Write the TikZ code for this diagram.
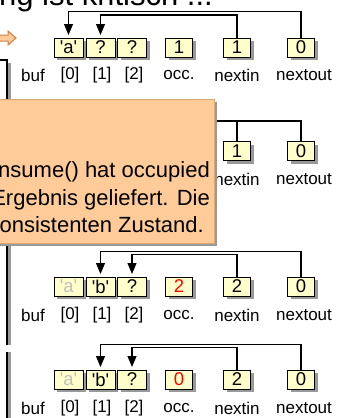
\documentclass[tikz,border=0pt]{standalone}
\usepackage{fontspec}
\setmainfont{Liberation Sans}
\newfontfamily\cellfont{Liberation Sans}
\usetikzlibrary{arrows.meta,shadows}
\definecolor{cellfill}{HTML}{FFFFCC}
\definecolor{notefill}{HTML}{FFCC99}
\definecolor{noteline}{HTML}{E0A870}
\definecolor{arrowline}{HTML}{D08040}
\definecolor{shadowgray}{HTML}{999999}
\definecolor{fadedtext}{HTML}{C0C0C0}
\tikzset{
  shadowed/.style={drop shadow={shadow xshift=3pt,shadow yshift=-3pt,fill=shadowgray,opacity=1}},
  bufcell/.style={draw=black,line width=1pt,fill=cellfill,minimum width=29pt,minimum height=19pt,
    inner sep=0pt,font=\cellfont\fontsize{18.5}{20}\selectfont,shadowed},
  varcell/.style={bufcell,minimum width=27pt},
  lbl/.style={font=\fontsize{17}{18}\selectfont,inner sep=0pt},
  link/.style={draw=black,line width=1.2pt,-{Triangle[length=11pt,width=9pt]},shorten >=2.5pt},
  plainlink/.style={draw=black,line width=1.2pt},
  notetext/.style={font=\fontsize{22}{26}\selectfont,inner sep=0pt,anchor=base east},
  barline/.style={draw=black,line width=1.2pt},
  barshadow/.style={draw=shadowgray,line width=3pt},
}
\begin{document}
\begin{tikzpicture}[x=1pt,y=-1pt]
\useasboundingbox (0,0) rectangle (346,418);
\clip (0,0) rectangle (346,418);
\fill[white] (0,0) rectangle (346,418);

% title (clipped)
\node[font=\fontsize{31}{34}\selectfont,inner sep=0pt,anchor=base east] (title) at (213,5) {rang ist kritisch ...};

% orange arrow
\path[fill=notefill,draw=arrowline,line width=1pt]
  (-5,35) -- (8,35) -- (8,31) -- (16,38) -- (8,45) -- (8,41) -- (-5,41) -- cycle;

% left bars
\draw[barshadow] (9.5,63) -- (9.5,345);
\draw[barline] (-2,60) -- (7,60) -- (7,345);
\draw[barshadow] (9.5,352) -- (9.5,420);
\draw[barline] (7,352) -- (7,420);

% ---------- row 1
\node[bufcell] (b10) at (68.5,47.5) {'a'};
\node[bufcell] (b11) at (100.5,47.5) {?};
\node[bufcell] (b12) at (132,47.5) {?};
\node[varcell] (oc1) at (179,47.5) {1};
\node[varcell] (ni1) at (237,47.5) {1};
\node[varcell] (no1) at (301,47.5) {0};
\draw[link] (no1.north) -- ++(0,-26) -| (b10.north);
\draw[link] (ni1.north) -- ++(0,-22.5) -| (b11.north);
\node[lbl] (lb1) at (33,75.5) {buf};
\node[lbl] (l10) at (70,75.5) {[0]};
\node[lbl] (l11) at (102,75.5) {[1]};
\node[lbl] (l12) at (134,75.5) {[2]};
\node[lbl] (lo1) at (179,75.5) {occ.};
\node[lbl] (li1) at (237,75.5) {nextin};
\node[lbl] (lx1) at (304,75.5) {nextout};

% ---------- row 2 (mostly hidden)
\coordinate (r2end) at (190,121);
\node[varcell] (ni2) at (237,151) {1};
\node[varcell] (no2) at (301,151) {0};
\draw[plainlink] (no2.north) |- (r2end);
\draw[plainlink] (ni2.north) |- (r2end);
\node[lbl] (li2) at (237,179.5) {nextin};
\node[lbl] (lx2) at (304,179.5) {nextout};

% note box
\path[fill=notefill,draw=noteline,line width=0.8pt,shadowed] (-20,99) rectangle (214,243);
\node[notetext] (n1) at (210,177) {nsume() hat occupied};
\node[notetext] (n2) at (210,205) {Ergebnis geliefert. Die};
\node[notetext] (n3) at (204,232) {onsistenten Zustand.};

% ---------- row 3
\node[bufcell,text=fadedtext] (b30) at (68.5,286.5) {'a'};
\node[bufcell] (b31) at (100.5,286.5) {'b'};
\node[bufcell] (b32) at (132,286.5) {?};
\node[varcell,text=red] (oc3) at (179,286.5) {2};
\node[varcell] (ni3) at (237,286.5) {2};
\node[varcell] (no3) at (301,286.5) {0};
\draw[link] (no3.north) -- ++(0,-25) -| (b31.north);
\draw[link] (ni3.north) -- ++(0,-22) -| (b32.north);
\node[lbl] (lb3) at (33,315) {buf};
\node[lbl] (l30) at (70,315) {[0]};
\node[lbl] (l31) at (102,315) {[1]};
\node[lbl] (l32) at (134,315) {[2]};
\node[lbl] (lo3) at (179,315) {occ.};
\node[lbl] (li3) at (237,315) {nextin};
\node[lbl] (lx3) at (304,315) {nextout};

% ---------- row 4
\node[bufcell,text=fadedtext] (b40) at (68.5,379.5) {'a'};
\node[bufcell] (b41) at (100.5,379.5) {'b'};
\node[bufcell] (b42) at (132,379.5) {?};
\node[varcell,text=red] (oc4) at (179,379.5) {0};
\node[varcell] (ni4) at (237,379.5) {2};
\node[varcell] (no4) at (301,379.5) {0};
\draw[link] (no4.north) -- ++(0,-25) -| (b41.north);
\draw[link] (ni4.north) -- ++(0,-22) -| (b42.north);
\node[lbl] (lb4) at (33,408) {buf};
\node[lbl] (l40) at (70,408) {[0]};
\node[lbl] (l41) at (102,408) {[1]};
\node[lbl] (l42) at (134,408) {[2]};
\node[lbl] (lo4) at (179,408) {occ.};
\node[lbl] (li4) at (237,408) {nextin};
\node[lbl] (lx4) at (304,408) {nextout};
\end{tikzpicture}
\end{document}
